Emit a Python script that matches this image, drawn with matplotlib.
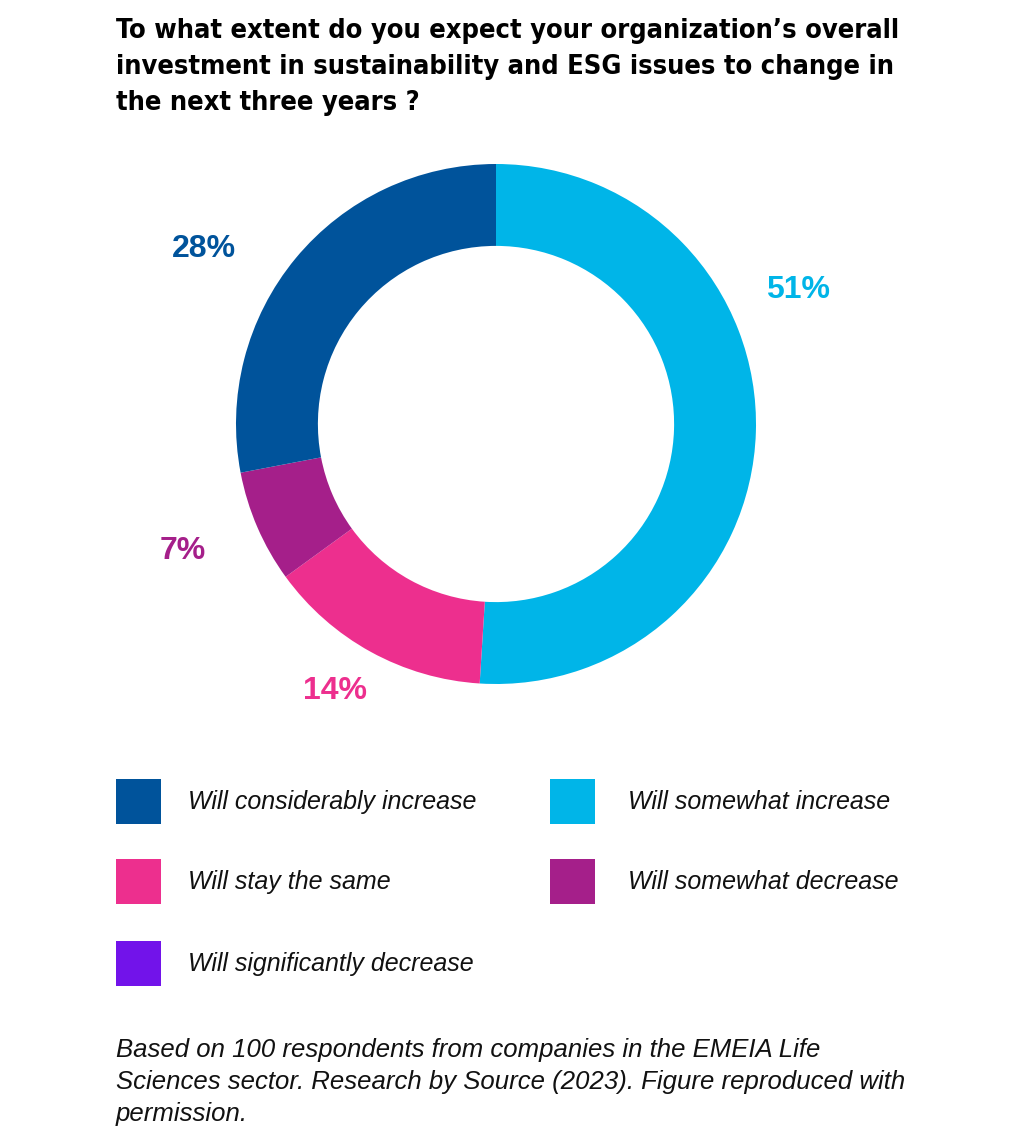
import matplotlib.pyplot as plt
import numpy as np
from matplotlib.patches import Rectangle

TITLE = ("To what extent do you expect your organization\u2019s overall\n"
         "investment in sustainability and ESG issues to change in\n"
         "the next three years ?")
NOTE = ("Based on 100 respondents from companies in the EMEIA Life\n"
        "Sciences sector. Research by Source (2023). Figure reproduced with\n"
        "permission.")

categories = [
    "Will considerably increase",
    "Will somewhat increase",
    "Will stay the same",
    "Will somewhat decrease",
    "Will significantly decrease",
]
values = [28, 51, 14, 7, 0]
colors = ["#00539B", "#00B5E8", "#ED2F8E", "#A51F8A", "#7213EA"]

# pie drawing order (clockwise from 12 o'clock)
pie_order = [1, 2, 3, 0]
# label placement: (angle deg, radius) per category, from the picture
label_pos = {0: (149, 1.31), 1: (24, 1.27), 2: (239, 1.20), 3: (202, 1.30)}

W, H = 1034, 1140
fig = plt.figure(figsize=(W / 100, H / 100), dpi=100)

# donut
cx, cy, r = 496, 424, 260
ax = fig.add_axes([(cx - r) / W, (H - cy - r) / H, 2 * r / W, 2 * r / H])
ax.pie([values[i] for i in pie_order], colors=[colors[i] for i in pie_order],
       startangle=90, counterclock=False, radius=1.0,
       wedgeprops=dict(width=0.315, linewidth=0))
for i, (ang, rad) in label_pos.items():
    a = np.deg2rad(ang)
    ax.text(rad * np.cos(a), rad * np.sin(a), f"{values[i]}%", color=colors[i],
            fontsize=23, fontweight="bold", family="Liberation Sans",
            ha="center", va="center")
ax.set_xlim(-1, 1)
ax.set_ylim(-1, 1)
ax.set_aspect("equal")
ax.axis("off")

# overlay in pixel coordinates for title, legend, note
ov = fig.add_axes([0, 0, 1, 1])
ov.set_xlim(0, W)
ov.set_ylim(H, 0)
ov.axis("off")

ov.text(116, 18, TITLE, fontsize=19.5, fontweight="bold",
        family="DejaVu Sans", fontstretch="condensed",
        va="top", ha="left", linespacing=1.5)

legend_slots = [(116, 779), (550, 779), (116, 859), (550, 859), (116, 941)]
for (x, y), lab, col in zip(legend_slots, categories, colors):
    ov.add_patch(Rectangle((x, y), 45, 45, facecolor=col, edgecolor="none"))
    tx = 188 if x < 300 else 628
    ov.text(tx, y + 23, lab, fontsize=18, style="italic",
            family="Liberation Sans", va="center", ha="left", color="#111111")

ov.text(116, 1038, NOTE, fontsize=18.5, style="italic", family="Liberation Sans",
        va="top", ha="left", linespacing=1.43, color="#111111")

fig.savefig("out.png", dpi=100, facecolor="white")
